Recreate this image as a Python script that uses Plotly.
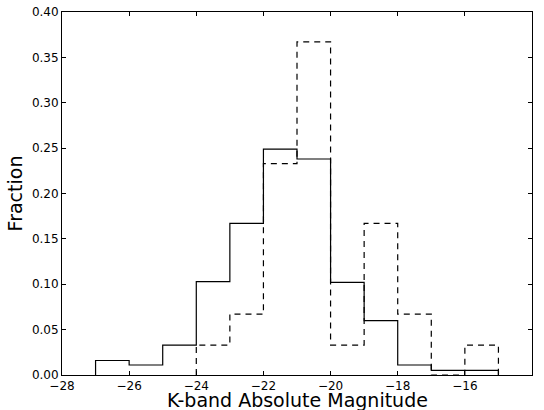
import plotly.graph_objects as go

# Bin edges (K-band absolute magnitude)
solid_edges = [-27, -26, -25, -24, -23, -22, -21, -20, -19, -18, -17, -16, -15]
solid_frac = [0.016, 0.011, 0.033, 0.103, 0.167, 0.249, 0.238, 0.102, 0.060, 0.011, 0.005, 0.005]

dashed_edges = [-24, -23, -22, -21, -20, -19, -18, -17, -16, -15]
dashed_frac = [0.033, 0.067, 0.233, 0.367, 0.033, 0.167, 0.067, 0.0, 0.033]

x_ticks = [-28, -26, -24, -22, -20, -18, -16, -14]
y_ticks = [0.00, 0.05, 0.10, 0.15, 0.20, 0.25, 0.30, 0.35, 0.40]


def step_xy(edges, vals):
    x = [edges[0]] + list(edges)
    y = [0] + list(vals) + [0]
    return x, y


fig = go.Figure()
sx, sy = step_xy(solid_edges, solid_frac)
fig.add_trace(go.Scatter(x=sx, y=sy, mode="lines", line=dict(shape="hv", color="black", width=1.2),
                         showlegend=False, hoverinfo="skip"))
dx, dy = step_xy(dashed_edges, dashed_frac)
fig.add_trace(go.Scatter(x=dx, y=dy, mode="lines", line=dict(shape="hv", color="black", width=1.2, dash="6px,5px"),
                         showlegend=False, hoverinfo="skip"))

font = "DejaVu Sans"
fig.update_layout(
    width=544, height=410,
    margin=dict(l=62, r=12, t=12, b=35),
    paper_bgcolor="white", plot_bgcolor="white",
    font=dict(family=font, size=12, color="black"),
)
fig.update_xaxes(
    range=[-28, -14], tickvals=x_ticks, automargin=False,
    ticktext=[str(v).replace("-", "\u2212") for v in x_ticks],
    ticks="inside", ticklen=4, tickcolor="black", mirror="allticks",
    showline=True, linecolor="black", linewidth=1, showgrid=False, zeroline=False,
    tickfont=dict(size=12, family=font),
)
fig.update_yaxes(
    range=[0, 0.40], tickvals=y_ticks, automargin=False,
    ticktext=[f"{v:.2f}" for v in y_ticks],
    ticks="inside", ticklen=4, tickcolor="black", mirror="allticks",
    showline=True, linecolor="black", linewidth=1, showgrid=False, zeroline=False,
    tickfont=dict(size=12, family=font),
    title=dict(text="Fraction", font=dict(size=19, family=font), standoff=4),
)
fig.add_annotation(
    text="K-band Absolute Magnitude", xref="paper", yref="paper",
    x=0.5, y=-0.069, xanchor="center", yanchor="middle", showarrow=False,
    font=dict(size=19, family=font, color="black"),
)

fig.write_html("out.html")
